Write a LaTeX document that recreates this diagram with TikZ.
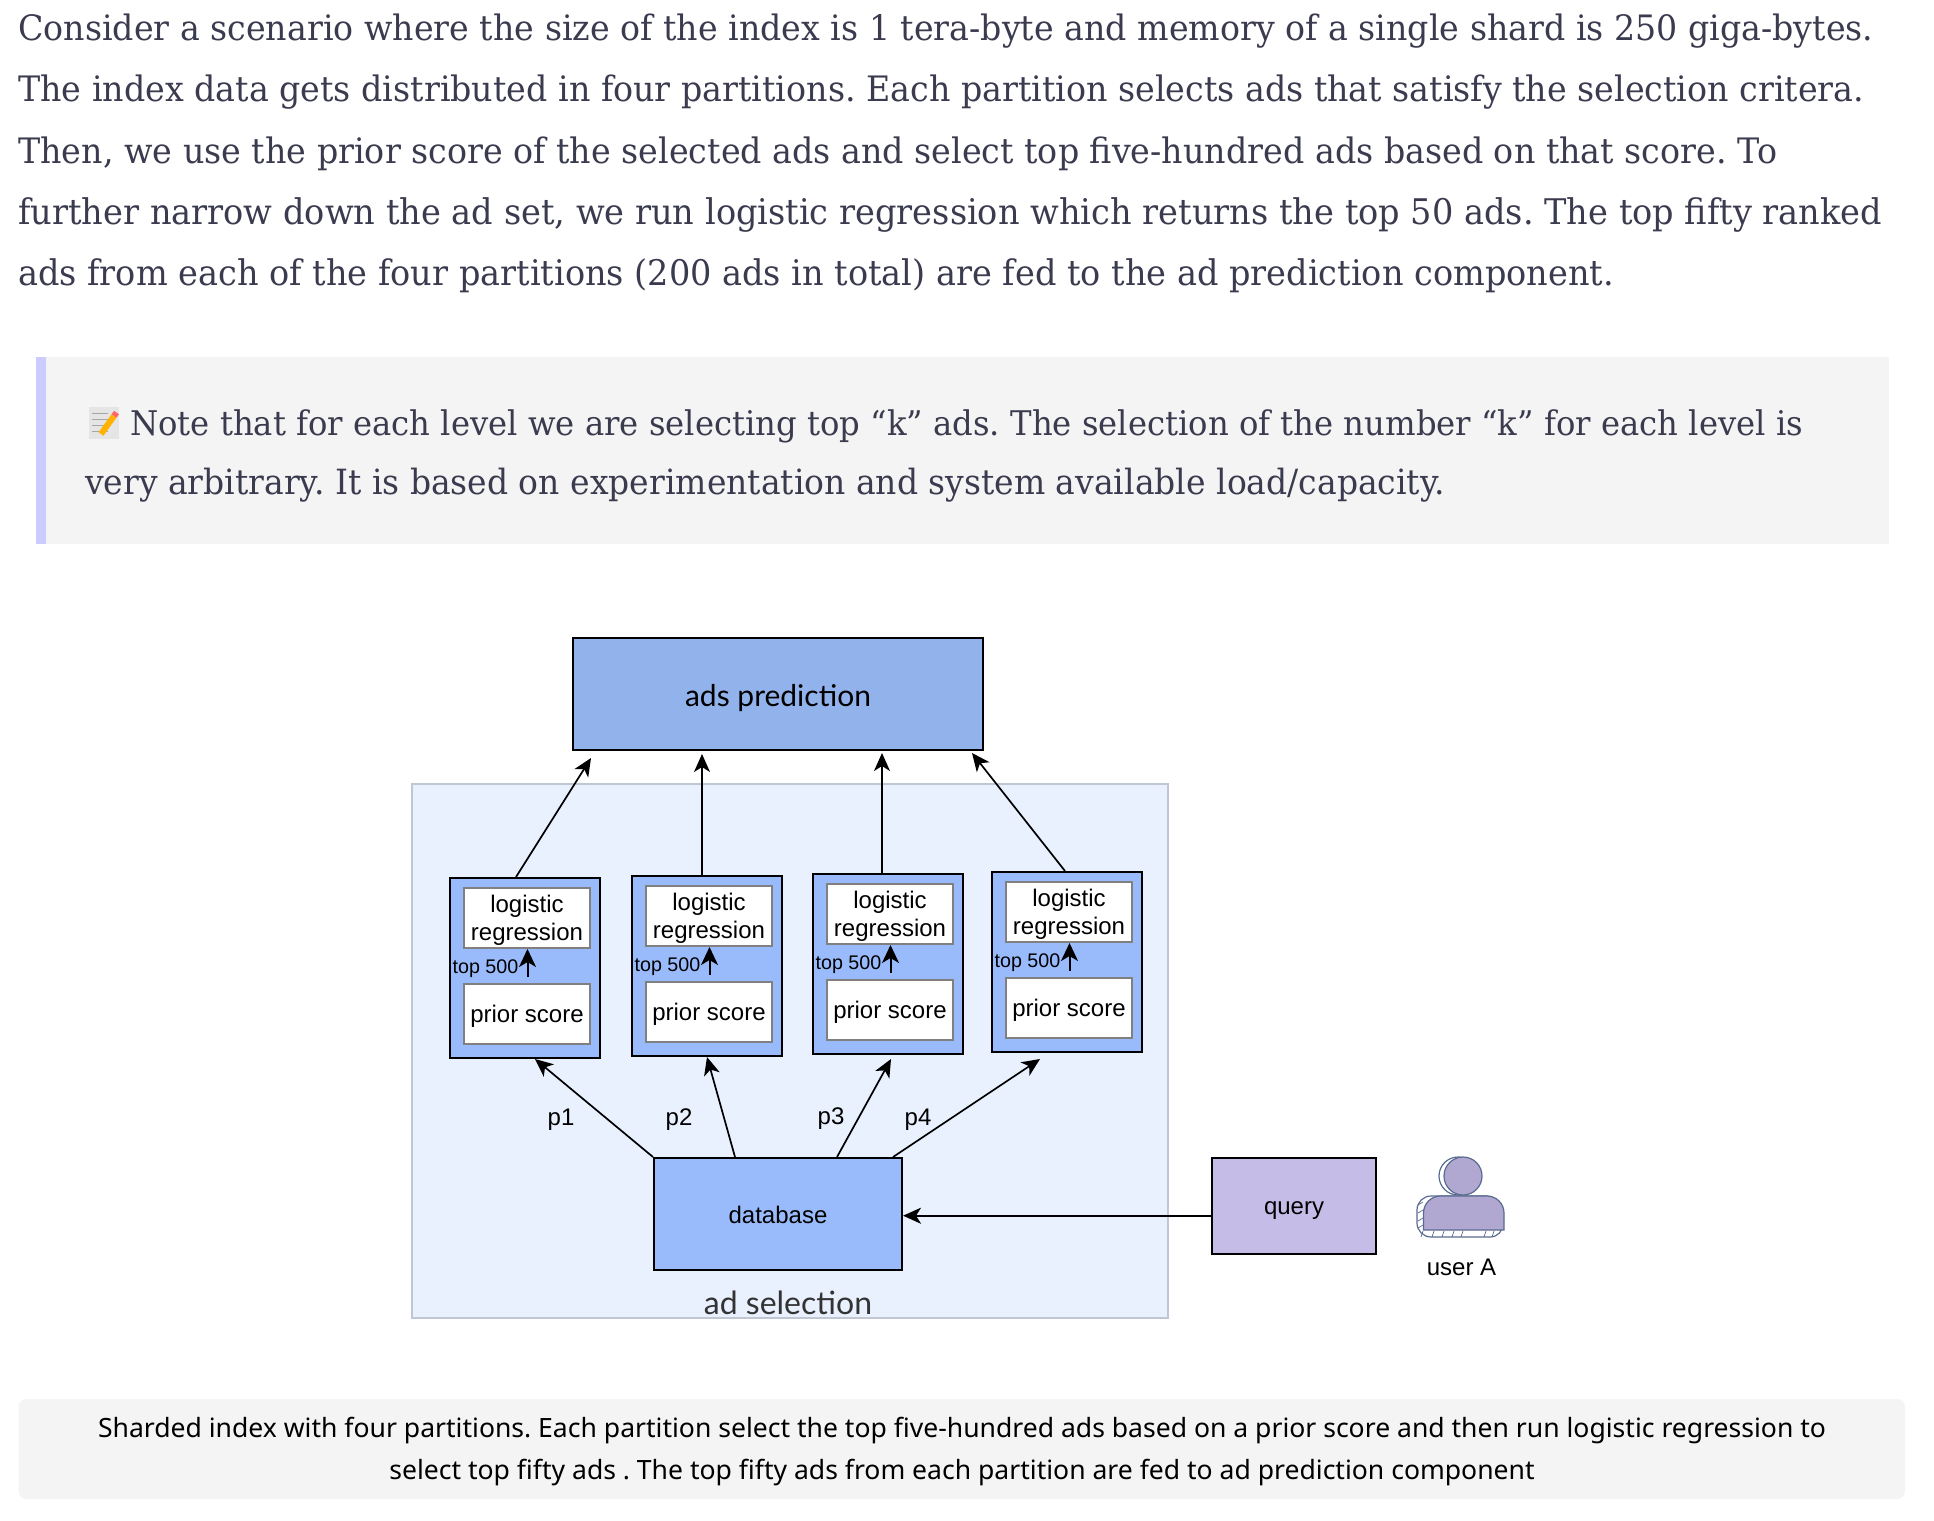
\documentclass[tikz,border=0pt]{standalone}
\usepackage{fontspec}
\usepackage{xcolor}
\usetikzlibrary{arrows.meta, positioning}
\setmainfont{Liberation Sans}
\newfontfamily\bodyfont[FakeStretch=0.95]{DejaVu Serif}
\newfontfamily\capfont{Noto Sans}
\newfontfamily\handfont{Lato}
\newcommand{\lowtext}{\rule{0pt}{22.5pt}}
\definecolor{inkblue}{HTML}{3B3B4F}
\definecolor{notegray}{HTML}{F4F4F4}
\definecolor{notebar}{HTML}{CCCCFF}
\definecolor{predblue}{HTML}{92B2EC}
\definecolor{partblue}{HTML}{99BBFB}
\definecolor{selblue}{HTML}{E9F0FE}
\definecolor{selline}{HTML}{C0C6D4}
\definecolor{querylilac}{HTML}{C5BDE8}
\definecolor{userlilac}{HTML}{B0A8D0}
\definecolor{userline}{HTML}{5A6A90}
\tikzset{
    bodyline/.style={anchor=base west, inner sep=0pt, text=inkblue, font=\bodyfont\frenchspacing\fontsize{#1}{40}\selectfont},
    capline/.style={inner sep=0pt, text=black, font=\capfont\frenchspacing\fontsize{26.55}{30}\selectfont},
    handtext/.style={inner sep=0pt, font=\handfont\fontsize{#1}{34}\selectfont},
    boxtext/.style={inner sep=0pt, font=\fontsize{24}{28}\selectfont},
    stage/.style={draw=black, line width=2pt, fill=#1, inner sep=0pt},
    partbox/.style={stage=partblue, minimum width=150pt, minimum height=180pt},
    innerbox/.style={draw=gray, line width=2pt, fill=white, inner sep=0pt, align=center, minimum width=126pt, minimum height=60pt, font=\fontsize{24}{28}\selectfont},
    conn/.style={draw=black, line width=1.7pt, -{Stealth[length=18pt, width=16pt, inset=5pt]}}
}

\begin{document}
\begin{tikzpicture}[x=1pt, y=-1pt]
    \useasboundingbox (0,0) rectangle (1934,1520);

    % Paragraph
    \node[bodyline=35] (line1) at (18,41) {Consider a scenario where the size of the index is 1 tera-byte and memory of a single shard is 250 giga-bytes.};
    \node[bodyline=35.05] (line2) at (18,101) {The index data gets distributed in four partitions. Each partition selects ads that satisfy the selection critera.};
    \node[bodyline=35.07] (line3) at (18,163) {Then, we use the prior score of the selected ads and select top five-hundred ads based on that score. To};
    \node[bodyline=35.35] (line4) at (18,224) {further narrow down the ad set, we run logistic regression which returns the top 50 ads. The top fifty ranked};
    \node[bodyline=35.3] (line5) at (18,285) {ads from each of the four partitions (200 ads in total) are fed to the ad prediction component.};

    % Note
    \fill[notegray] (36,357) rectangle (1889,544);
    \fill[notebar] (36,357) rectangle (46,544);
    \fill[gray!20] (89,407) rectangle (119,439);
    \foreach \y in {413,419,425,431}
        \draw[gray!70, line width=0.8pt] (92,\y) -- (108,\y);
    \draw[orange!60!yellow, line width=6pt] (101,434) -- (114,416);
    \draw[red!60, line width=6pt] (114,416) -- (116.5,412.5);
    \node[bodyline=33.97] (note1) at (130,435) {Note that for each level we are selecting top “k” ads. The selection of the number “k” for each level is};
    \node[bodyline=34.75] (note2) at (85,494) {very arbitrary. It is based on experimentation and system available load/capacity.};

    % Ad selection area
    \draw[selline, line width=1.5pt, fill=selblue] (412,784) rectangle (1168,1318);
    \node[handtext=32, text=black!80] (selection) at (788,1303) {ad selection};

    % Main boxes
    \node[stage=predblue, minimum width=410pt, minimum height=112pt] (predict) at (778,694) {};
    \node[handtext=30] (predictlabel) at (778,698) {ads prediction};
    \node[stage=partblue, minimum width=248pt, minimum height=112pt, boxtext] (database) at (778,1214) {\rule{0pt}{19.5pt}database};
    \node[stage=querylilac, minimum width=164pt, minimum height=96pt, boxtext] (query) at (1294,1206) {\lowtext query};

    % Partitions
    \foreach \i/\x/\y in {1/525/968, 2/707/966, 3/888/964, 4/1067/962} {
        \node[partbox] (part\i) at (\x,\y) {};
        \node[innerbox] (logit\i) at (\x+2,\y-50) {\lowtext logistic\\regression};
        \node[innerbox] (prior\i) at (\x+2,\y+46) {\lowtext prior score};
        \node[inner sep=0pt, font=\fontsize{19.7}{22}\selectfont] (top\i) at (\x-39.5,\y+0.5) {top 500};
        \draw[line width=2pt, -{Stealth[length=18pt, width=17pt, inset=5pt]}] ([xshift=0.5pt,yshift=6pt]prior\i.north) -- ([xshift=0.5pt]logit\i.south);
    }

    % Partitions to prediction
    \coordinate (tip1) at (591,758);
    \coordinate (tip2) at (702,754);
    \coordinate (tip3) at (882,753);
    \coordinate (tip4) at (972,753);
    \draw[conn] ([xshift=-9pt]part1.north) -- (tip1);
    \draw[conn] ([xshift=-5pt]part2.north) -- (tip2);
    \draw[conn] ([xshift=-6pt]part3.north) -- (tip3);
    \draw[conn] ([xshift=-2pt]part4.north) -- (tip4);

    % Database to partitions
    \coordinate (low3) at (891,1059);
    \coordinate (low4) at (1040,1059);
    \draw[conn] (database.north west) -- ([xshift=10pt]part1.south);
    \draw[conn] ([xshift=-43pt]database.north) -- (part2.south);
    \draw[conn] ([xshift=59pt]database.north) -- (low3);
    \draw[conn] ([xshift=115pt]database.north) -- (low4);
    \draw[conn, line width=2pt] ([yshift=-1.7pt]query.west |- database.east) -- ([yshift=-1.7pt]database.east);

    \node[boxtext] (p1) at (561,1119.5) {p1};
    \node[boxtext] (p2) at (679,1119.5) {p2};
    \node[boxtext] (p3) at (831,1118.5) {p3};
    \node[boxtext] (p4) at (918,1119.5) {p4};

    % User
    \draw[userline, line width=1.2pt, fill=white] (1458,1176) circle (19);
    \draw[userline, line width=1.2pt, fill=white, rounded corners=14pt] (1417,1237) -- (1417,1196) -- (1500,1196) -- (1504,1237) -- cycle;
    \foreach \x in {1421,1432,1442,1452,1461,1484,1492}
        \draw[userline, line width=0.7pt] (\x,1237) -- (\x+2,1231);
    \foreach \y in {1205,1213,1221,1228}
        \draw[userline, line width=0.7pt] (1418,\y) -- (1423,\y-3);
    \draw[userline, line width=1.2pt, fill=userlilac] (1463,1176) circle (19);
    \draw[userline, line width=1.2pt, fill=userlilac] (1423.5,1230) -- (1423.5,1213) arc (180:270:17) -- (1487,1196) arc (270:360:17) -- (1504,1230) -- cycle;
    \node[boxtext] (usera) at (1461.5,1267) {user A};

    % Caption
    \fill[notegray, rounded corners=8pt] (18.5,1399) rectangle (1905,1499);
    \node[capline] (cap1) at (962,1430.5) {Sharded index with four partitions. Each partition select the top five-hundred ads based on a prior score and then run logistic regression to};
    \node[capline] (cap2) at (962,1472.5) {select top fifty ads . The top fifty ads from each partition are fed to ad prediction component};
\end{tikzpicture}
\end{document}
